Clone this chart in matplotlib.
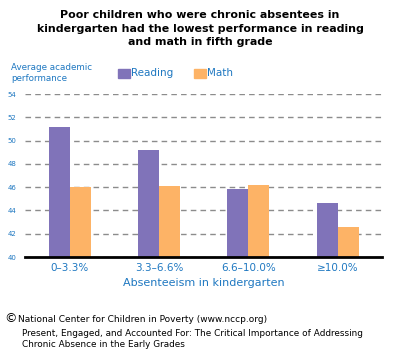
import numpy as np
import matplotlib
matplotlib.use("Agg")
import matplotlib.pyplot as plt
from matplotlib.patches import Rectangle

# data
groups = ["0\u20133.3%", "3.3\u20136.6%", "6.6\u201310.0%", "\u226510.0%"]
reading = [51.2, 49.2, 45.8, 44.6]
math_scores = [46.0, 46.1, 46.2, 42.6]
yticks = [40, 42, 44, 46, 48, 50, 52, 54]

purple = "#8073b9"
orange = "#fdb366"
blue = "#1f78c1"

plt.rcParams['font.family'] = ['DejaVu Sans']

fig = plt.figure(figsize=(4, 3.5), dpi=100)
ax = fig.add_axes([0.0625, 0.2657, 0.893, 0.4657])

x = np.arange(len(groups))
w = 0.235
ax.bar(x - w / 2, reading, w, color=purple, zorder=3)
ax.bar(x + w / 2, math_scores, w, color=orange, zorder=3)

ax.set_xlim(-0.5, 3.5)
ax.set_ylim(40, 54)
ax.set_yticks(yticks)
ax.set_yticklabels([str(v) for v in yticks], fontsize=5, color=blue)
ax.yaxis.grid(True, linestyle=(0, (4, 3)), color="#8c8c8c", linewidth=1, zorder=0)
ax.set_xticks(x)
ax.set_xticklabels(groups, fontsize=7.5, color=blue)
ax.tick_params(length=0, pad=4)
ax.tick_params(axis="y", pad=6)
for s in ["top", "right", "left"]:
    ax.spines[s].set_visible(False)
ax.spines["bottom"].set_linewidth(2)
ax.spines["bottom"].set_zorder(4)
ax.set_xlabel("Absenteeism in kindergarten", fontsize=8, color=blue, labelpad=4)

fig.text(0.5, 1 - 15 / 350, "Poor children who were chronic absentees in\n"
         "kindergarten had the lowest performance in reading\n"
         "and math in fifth grade",
         ha="center", va="center", fontsize=7.9, fontweight="bold", linespacing=1.45)
# recentre: text block anchored at first line, shift down
fig.texts[-1].set_y(1 - 28.5 / 350)

fig.text(0.027, 1 - 73 / 350, "Average academic\nperformance", fontsize=6.3, color=blue,
         va="center", linespacing=1.4)

# legend
for px, label, c in [(118, "Reading", purple), (194, "Math", orange)]:
    fig.patches.append(Rectangle((px / 400, 1 - 78 / 350), 12 / 400, 9 / 350,
                                 transform=fig.transFigure, color=c))
    fig.text((px + 13) / 400, 1 - 73.5 / 350, label, fontsize=7.5, color=blue, va="center")

fig.text(0.01, 1 - 319 / 350, "\u00a9", fontsize=9, va="center")
fig.text(0.045, 1 - 320 / 350, "National Center for Children in Poverty (www.nccp.org)",
         fontsize=6.5, va="center")
fig.text(0.055, 1 - 339 / 350,
         "Present, Engaged, and Accounted For: The Critical Importance of Addressing\n"
         "Chronic Absence in the Early Grades",
         fontsize=6.4, va="center", linespacing=1.2)

fig.savefig("out.png", dpi=100, facecolor="white")
